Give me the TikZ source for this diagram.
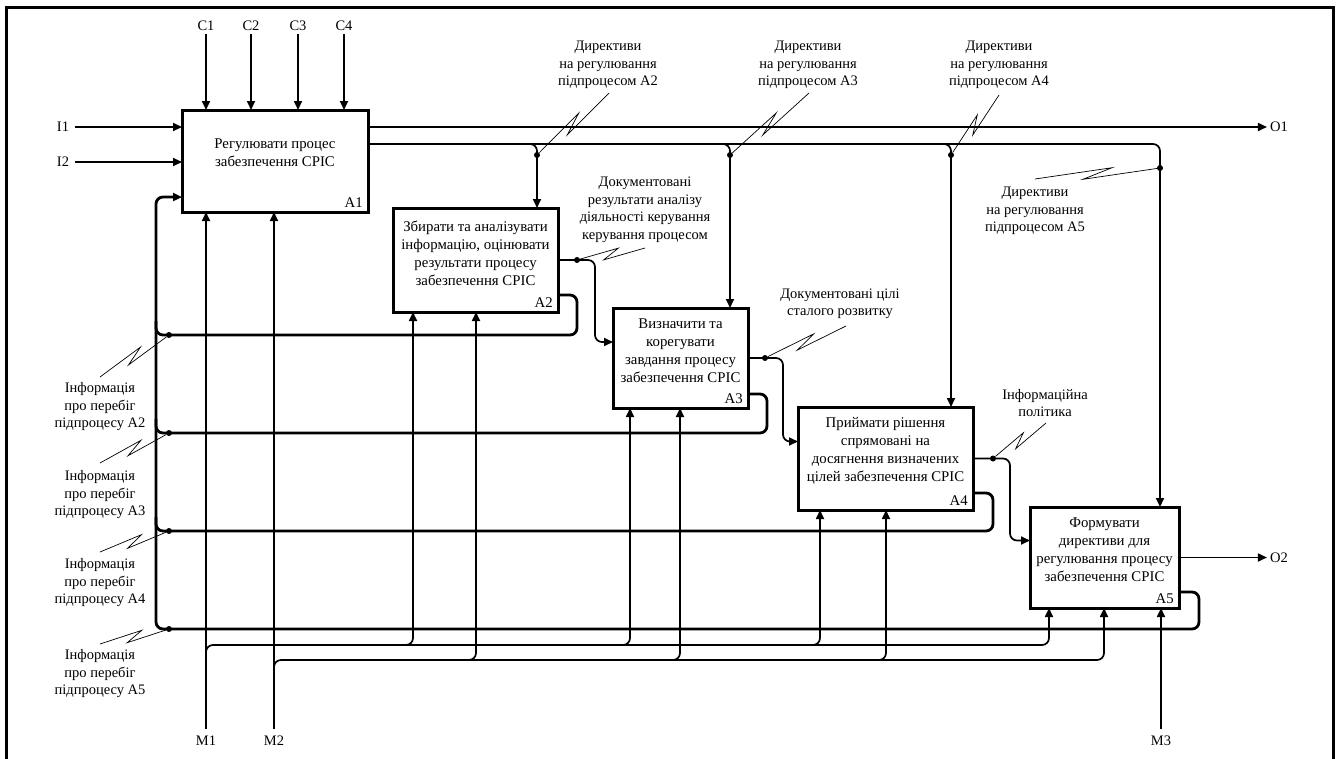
\documentclass[tikz,border=0pt]{standalone}
\usepackage{fontspec}
\setmainfont{Liberation Serif}
\usetikzlibrary{arrows.meta,calc}
\newcommand\lbfont{\fontsize{14.5}{17.5}\selectfont}
\newcommand\bxfont{\fontsize{14.8}{18}\selectfont}
\newcommand\squig[2]{\draw[sq] (#1) -- ($(#1)!0.62!(#2)!4.5pt!90:(#2)$) -- ($(#1)!0.38!(#2)!4.5pt!-90:(#2)$) -- (#2);}
\tikzset{
  box/.style={draw, line width=3pt, inner sep=0pt, outer sep=0pt, anchor=north west},
  arr/.style={line width=1.7pt, -{Triangle[length=9pt,width=8pt]}},
  ln/.style={line width=1.7pt},
  fb/.style={line width=2.8pt, rounded corners=7pt},
  rc/.style={rounded corners=7pt},
  sq/.style={line width=0.7pt},
  lbl/.style={font=\lbfont, align=center, inner sep=0pt},
  btxt/.style={font=\bxfont, align=center, inner sep=0pt},
  term/.style={font=\lbfont, inner sep=3pt},
  num/.style={font=\bxfont, anchor=south east, inner sep=0pt},
  dot/.style={circle, fill, inner sep=0pt, minimum size=6pt},
}
\begin{document}
\begin{tikzpicture}[x=1pt,y=-1pt]
\useasboundingbox (0,0) rectangle (1338,758);
\draw[line width=3pt] (6,770) -- (6,7) -- (1333,7) -- (1333,770);

% boxes
\node[box,minimum width=186pt,minimum height=102pt] (a1) at (182,110) {};
\node[box,minimum width=165pt,minimum height=104pt] (a2) at (393,208) {};
\node[box,minimum width=135pt,minimum height=100pt] (a3) at (613,308) {};
\node[box,minimum width=175pt,minimum height=103pt] (a4) at (798,407) {};
\node[box,minimum width=149pt,minimum height=101pt] (a5) at (1030,507) {};

\node[btxt] (t1) at ([yshift=8pt]a1.center) {Регулювати процес\\забезпечення СРІС};
\node[btxt] (t2) at ([yshift=7pt]a2.center) {Збирати та аналізувати\\інформацію, оцінювати\\результати процесу\\забезпечення СРІС};
\node[btxt] (t3) at ([yshift=7pt]a3.center) {Визначити та\\корегувати\\завдання процесу\\забезпечення СРІС};
\node[btxt] (t4) at ([yshift=8pt]a4.center) {Приймати рішення\\спрямовані на\\досягнення визначених\\цілей забезпечення СРІС};
\node[btxt] (t5) at ([yshift=7.5pt]a5.center) {Формувати\\директиви для\\регулювання процесу\\забезпечення СРІС};

\node[num] (k1) at ([shift={(-5pt,4pt)}]a1.south east) {A1};
\node[num] (k2) at ([shift={(-5pt,4pt)}]a2.south east) {A2};
\node[num] (k3) at ([shift={(-5pt,4pt)}]a3.south east) {A3};
\node[num] (k4) at ([shift={(-5pt,4pt)}]a4.south east) {A4};
\node[num] (k5) at ([shift={(-5pt,4pt)}]a5.south east) {A5};

% terminals
\node[term] (c1) at (206,26) {C1};
\node[term] (c2) at (251,26) {C2};
\node[term] (c3) at (298,26) {C3};
\node[term] (c4) at (344,26) {C4};
\node[term] (i1) at (63,127) {I1};
\node[term] (i2) at (63,162) {I2};
\node[term] (o1) at (1279,127) {O1};
\node[term] (o2) at (1279,557.5) {O2};
\node[term] (m1) at (206,741) {M1};
\node[term] (m2) at (274,741) {M2};
\node[term] (m3) at (1161,741) {M3};

% labels
\node[lbl] (ld2) at (608,65) {Директиви\\на регулювання\\підпроцесом А2};
\node[lbl] (ld3) at (808,65) {Директиви\\на регулювання\\підпроцесом А3};
\node[lbl] (ld4) at (999,65) {Директиви\\на регулювання\\підпроцесом А4};
\node[lbl] (ld5) at (1035,211) {Директиви\\на регулювання\\підпроцесом А5};
\node[lbl] (lr2) at (645,210) {Документовані\\результати аналізу\\діяльності керування\\керування процесом};
\node[lbl] (lr3) at (840,304) {Документовані цілі\\сталого розвитку};
\node[lbl] (lr4) at (1045,403) {Інформаційна\\політика};
\node[lbl] (li2) at (100,407) {Інформація\\про перебіг\\підпроцесу А2};
\node[lbl] (li3) at (100,495) {Інформація\\про перебіг\\підпроцесу А3};
\node[lbl] (li4) at (100,583) {Інформація\\про перебіг\\підпроцесу А4};
\node[lbl] (li5) at (100,674) {Інформація\\про перебіг\\підпроцесу А5};

% helper coordinates
\coordinate (bus) at (0,144);
\coordinate (lv) at (156,197);
\coordinate (mb1) at (206,645);
\coordinate (mb2) at (274,660);
\coordinate (p2a) at ([xshift=20pt]a2.south west);
\coordinate (p2b) at ([xshift=83pt]a2.south west);
\coordinate (p3a) at ([xshift=17pt]a3.south west);
\coordinate (p3b) at ([xshift=67pt]a3.south west);
\coordinate (p4a) at ([xshift=22pt]a4.south west);
\coordinate (p4b) at ([xshift=88pt]a4.south west);
\coordinate (p5a) at ([xshift=19pt]a5.south west);
\coordinate (p5b) at ([xshift=74pt]a5.south west);

% controls and inputs
\foreach \c in {c1,c2,c3,c4} \draw[arr] (\c) -- (\c |- a1.north);
\draw[arr, shorten <=3pt] (i1) -- (i1 -| a1.west);
\draw[arr, shorten <=3pt] (i2) -- (i2 -| a1.west);
\draw[arr] (a1.east |- i1) -- (o1);

% directive bus
\node[dot] (d2) at (537,155) {};
\node[dot] (d3) at (730,155) {};
\node[dot] (d4) at (951,155) {};
\node[dot] (d5) at (1160,168) {};
\draw[arr,rc] (a1.east |- bus) -| (d5 |- a5.north);
\draw[arr,rc] ($(d2 |- bus)+(-12,0)$) -| (d2 |- a2.north);
\draw[arr,rc] ($(d3 |- bus)+(-12,0)$) -| (d3 |- a3.north);
\draw[arr,rc] ($(d4 |- bus)+(-12,0)$) -| (d4 |- a4.north);

% outputs between boxes
\node[dot] (e2) at (577,260) {};
\node[dot] (e3) at (765,358) {};
\node[dot] (e4) at (993,458.5) {};
\draw[arr,rc] (a2.east |- e2) -- ($(e2)+(18,0)$) |- ([yshift=16pt]a3.west);
\draw[arr,rc] (a3.east) -- ($(e3)+(18,0)$) |- ([yshift=17pt]a4.west);
\draw[arr,rc] (a4.east) -- ($(e4)+(17,0)$) |- ([yshift=17pt]a5.west);
\draw[arr] (a5.east) -- (o2);

% feedback loops
\node[dot] (f2) at (169,335) {};
\node[dot] (f3) at (169,433) {};
\node[dot] (f4) at (169,531) {};
\node[dot] (f5) at (169,629) {};
\draw[fb] ([yshift=-35pt]a2.east) -- ++(19,0) |- (f2.center) -- (f2 -| lv) -- ($(f2 -| lv)+(0,-14)$);
\draw[fb] ([yshift=-36pt]a3.east) -- ++(19,0) |- (f3.center) -- (f3 -| lv) -- ($(f3 -| lv)+(0,-14)$);
\draw[fb] ([yshift=-34.5pt]a4.east) -- ++(20,0) |- (f4.center) -- (f4 -| lv) -- ($(f4 -| lv)+(0,-14)$);
\draw[fb, -{Triangle[length=9pt,width=8pt]}] ([yshift=-34.5pt]a5.east) -- ++(20,0) |- (f5.center) -- (f5 -| lv) -- (lv) -- (lv -| a1.west);

% mechanisms
\draw[arr, shorten <=4pt] (m1) -- (m1 |- a1.south);
\draw[arr, shorten <=4pt] (m2) -- (m2 |- a1.south);
\draw[arr, shorten <=4pt] (m3) -- (m3 |- a5.south);
\draw[arr,rc] ($(mb1)+(0,14)$) -- (mb1) -| (p5a);
\draw[arr,rc] ($(mb2)+(0,14)$) -- (mb2) -| (p5b);
\foreach \p in {p2a,p3a,p4a} \draw[arr,rc] ($(\p |- mb1)+(-12,0)$) -| (\p);
\foreach \p in {p2b,p3b,p4b} \draw[arr,rc] ($(\p |- mb2)+(-12,0)$) -| (\p);

% squiggles
\coordinate (q2) at (609,93);
\coordinate (q3) at (809,93);
\coordinate (q4) at (999,95);
\coordinate (q5) at (1035,179);
\coordinate (r2) at (645,248);
\coordinate (r3) at (846,326);
\coordinate (r4) at (1046,423);
\coordinate (s2) at (100,377);
\coordinate (s3) at (100,463);
\coordinate (s4) at (100,552);
\coordinate (s5) at (100,644);
\squig{d2}{q2}
\squig{d3}{q3}
\squig{d4}{q4}
\squig{d5}{q5}
\squig{e2}{r2}
\squig{e3}{r3}
\squig{e4}{r4}
\squig{f2}{s2}
\squig{f3}{s3}
\squig{f4}{s4}
\squig{f5}{s5}
\end{tikzpicture}
\end{document}
